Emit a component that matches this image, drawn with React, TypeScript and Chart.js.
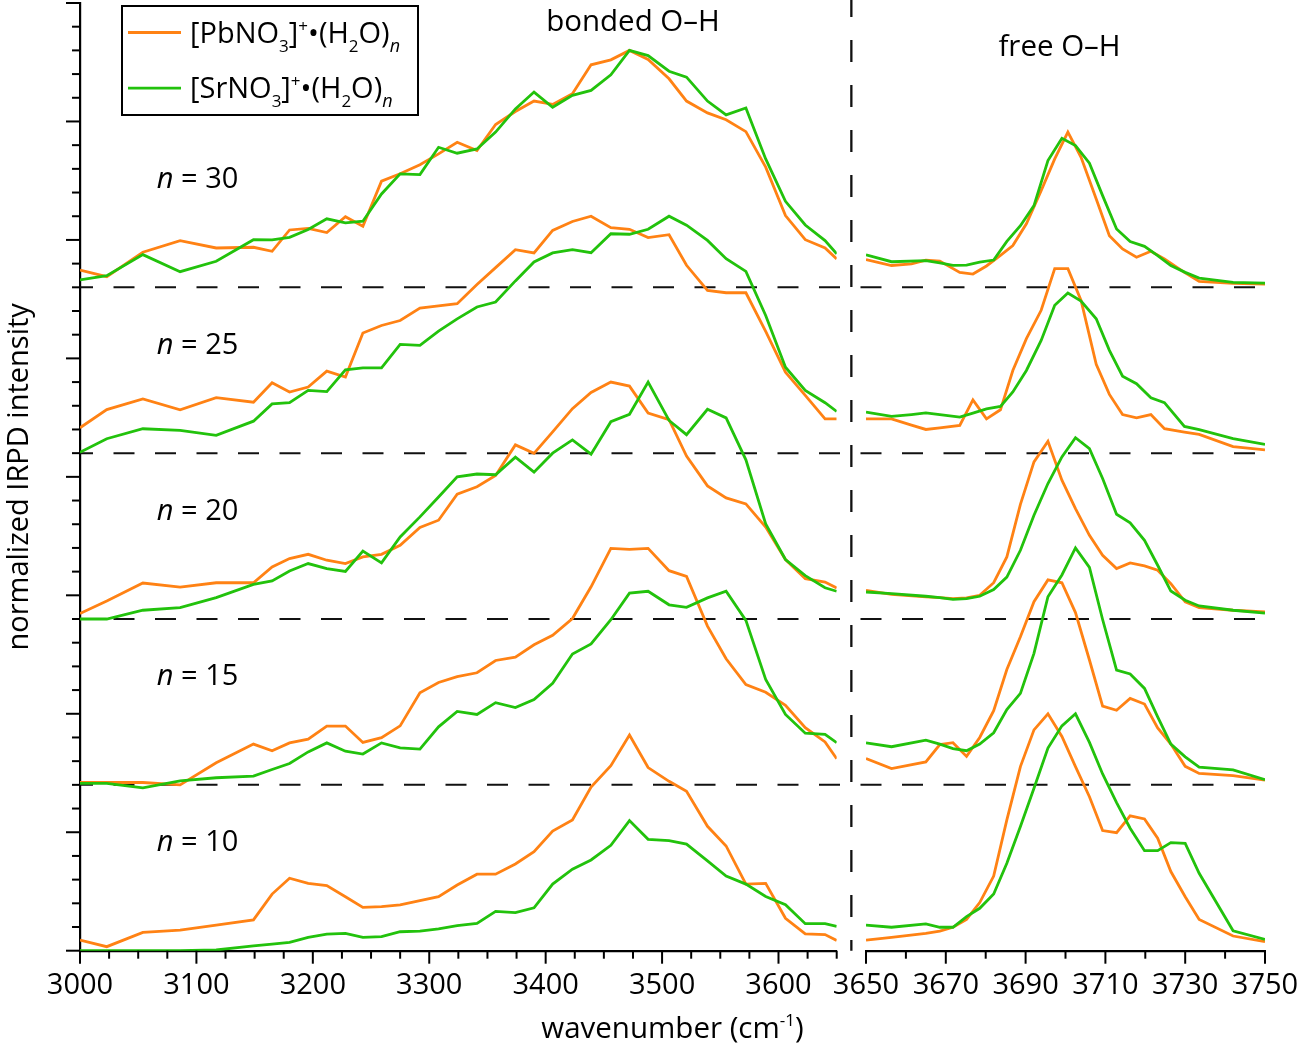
import React, { useEffect, useRef } from 'react';
import { Chart, registerables } from 'chart.js';

Chart.register(...registerables);

const FONT = '"Open Sans", "DejaVu Sans", sans-serif';
const ORANGE = '#ff8214';
const GREEN = '#22c20c';

// cluster sizes (n) and the vertical offset of each stacked trace
const CLUSTER_SIZES = [10, 15, 20, 25, 30];
const BASELINES = [0, 0.7, 1.4, 2.1, 2.8];

// ---------- bonded O-H region (3000-3650 cm-1) ----------
const BONDED_X = [3000, 3023, 3054, 3086, 3117, 3149, 3165, 3180, 3196, 3212, 3228, 3243, 3259, 3275, 3292, 3308, 3324, 3341, 3357, 3374, 3390, 3406, 3423, 3439, 3456, 3472, 3488, 3506, 3521, 3539, 3555, 3572, 3589, 3606, 3623, 3640, 3650];

const PB_BONDED_10 = [0.045, 0.017, 0.077, 0.087, 0.108, 0.130, 0.239, 0.306, 0.284, 0.275, 0.228, 0.183, 0.186, 0.193, 0.211, 0.228, 0.277, 0.323, 0.323, 0.366, 0.418, 0.505, 0.552, 0.691, 0.781, 0.910, 0.773, 0.715, 0.673, 0.525, 0.442, 0.281, 0.284, 0.137, 0.071, 0.068, 0.043];
const SR_BONDED_10 = [0, 0, 0, 0, 0.003, 0.020, 0.028, 0.035, 0.056, 0.070, 0.073, 0.056, 0.059, 0.080, 0.083, 0.092, 0.106, 0.115, 0.166, 0.161, 0.181, 0.281, 0.344, 0.383, 0.445, 0.549, 0.470, 0.465, 0.450, 0.379, 0.315, 0.281, 0.229, 0.194, 0.114, 0.114, 0.103];
const PB_BONDED_15 = [0.010, 0.010, 0.010, 0.0, 0.093, 0.172, 0.144, 0.177, 0.193, 0.248, 0.248, 0.179, 0.199, 0.249, 0.389, 0.432, 0.457, 0.473, 0.525, 0.539, 0.591, 0.631, 0.702, 0.836, 0.998, 0.994, 0.998, 0.904, 0.880, 0.670, 0.532, 0.423, 0.391, 0.336, 0.241, 0.181, 0.110];
const SR_BONDED_15 = [0.006, 0.006, -0.013, 0.017, 0.030, 0.037, 0.065, 0.090, 0.139, 0.177, 0.142, 0.130, 0.177, 0.156, 0.151, 0.245, 0.310, 0.297, 0.347, 0.326, 0.360, 0.429, 0.552, 0.595, 0.697, 0.809, 0.817, 0.760, 0.749, 0.789, 0.817, 0.694, 0.445, 0.297, 0.218, 0.213, 0.178];
const PB_BONDED_20 = [0.023, 0.076, 0.152, 0.135, 0.153, 0.153, 0.220, 0.255, 0.273, 0.248, 0.234, 0.262, 0.273, 0.311, 0.386, 0.417, 0.527, 0.558, 0.606, 0.735, 0.699, 0.790, 0.888, 0.956, 1.0, 0.983, 0.869, 0.841, 0.688, 0.562, 0.511, 0.486, 0.388, 0.251, 0.170, 0.156, 0.131];
const SR_BONDED_20 = [0.0, 0.0, 0.037, 0.048, 0.090, 0.146, 0.161, 0.203, 0.234, 0.213, 0.201, 0.287, 0.237, 0.346, 0.431, 0.515, 0.600, 0.612, 0.609, 0.683, 0.620, 0.700, 0.756, 0.696, 0.833, 0.864, 1.0, 0.838, 0.778, 0.885, 0.849, 0.672, 0.401, 0.251, 0.183, 0.132, 0.117];
const PB_BONDED_25 = [0.107, 0.184, 0.229, 0.183, 0.234, 0.215, 0.297, 0.258, 0.279, 0.346, 0.321, 0.507, 0.539, 0.560, 0.612, 0.622, 0.631, 0.712, 0.783, 0.859, 0.845, 0.940, 0.978, 1.0, 0.952, 0.945, 0.910, 0.922, 0.793, 0.687, 0.677, 0.677, 0.514, 0.342, 0.244, 0.145, 0.145];
const SR_BONDED_25 = [0.004, 0.061, 0.103, 0.096, 0.075, 0.135, 0.208, 0.213, 0.265, 0.260, 0.352, 0.360, 0.360, 0.459, 0.455, 0.515, 0.567, 0.617, 0.638, 0.727, 0.807, 0.845, 0.859, 0.846, 0.926, 0.924, 0.945, 1.0, 0.962, 0.898, 0.821, 0.767, 0.581, 0.363, 0.265, 0.213, 0.176];
const PB_BONDED_30 = [0.073, 0.045, 0.148, 0.197, 0.166, 0.169, 0.152, 0.242, 0.249, 0.231, 0.298, 0.258, 0.448, 0.479, 0.517, 0.563, 0.612, 0.577, 0.687, 0.742, 0.786, 0.772, 0.817, 0.939, 0.960, 1.0, 0.962, 0.880, 0.786, 0.736, 0.707, 0.657, 0.507, 0.303, 0.201, 0.166, 0.120];
const SR_BONDED_30 = [0.031, 0.049, 0.138, 0.066, 0.110, 0.201, 0.200, 0.211, 0.244, 0.289, 0.272, 0.279, 0.394, 0.479, 0.476, 0.591, 0.566, 0.584, 0.655, 0.753, 0.824, 0.760, 0.810, 0.831, 0.897, 1.0, 0.978, 0.912, 0.887, 0.786, 0.728, 0.757, 0.542, 0.363, 0.263, 0.197, 0.141];

// ---------- free O-H region (3650-3750 cm-1) ----------
const FREE_X_A = [3650, 3656.4, 3665, 3668.5, 3671.8, 3675.2, 3678.5, 3682, 3685.3, 3688.7, 3692.1, 3695.6, 3699.1, 3702.5, 3706, 3709.3, 3712.8, 3716.2, 3719.8, 3723.1, 3726.4, 3730, 3733.5, 3742, 3750];
const FREE_X_B = [3650, 3656.4, 3661.4, 3665, 3668.5, 3673.5, 3676.8, 3680.2, 3683.7, 3686.8, 3690.2, 3693.9, 3697.3, 3700.6, 3703.9, 3707.7, 3711, 3714.3, 3717.8, 3721.4, 3724.8, 3729.8, 3733.5, 3742, 3750];

const PB_FREE_10 = [0.045, 0.056, 0.073, 0.083, 0.099, 0.132, 0.203, 0.315, 0.552, 0.777, 0.932, 1.0, 0.904, 0.777, 0.650, 0.507, 0.498, 0.569, 0.556, 0.475, 0.334, 0.228, 0.132, 0.062, 0.038];
const SR_FREE_10 = [0.108, 0.099, 0.113, 0.099, 0.099, 0.144, 0.179, 0.239, 0.369, 0.524, 0.686, 0.855, 0.949, 1.0, 0.879, 0.746, 0.625, 0.517, 0.422, 0.422, 0.456, 0.453, 0.327, 0.084, 0.048];
const PB_FREE_15 = [0.111, 0.069, 0.097, 0.170, 0.178, 0.120, 0.200, 0.313, 0.487, 0.625, 0.773, 0.865, 0.853, 0.727, 0.527, 0.332, 0.315, 0.365, 0.341, 0.240, 0.172, 0.078, 0.048, 0.039, 0.020];
const SR_FREE_15 = [0.177, 0.161, 0.189, 0.172, 0.153, 0.144, 0.172, 0.220, 0.318, 0.386, 0.555, 0.794, 0.886, 1.0, 0.918, 0.698, 0.484, 0.468, 0.407, 0.287, 0.172, 0.118, 0.075, 0.063, 0.022];
const PB_FREE_20 = [0.121, 0.104, 0.093, 0.090, 0.086, 0.089, 0.100, 0.153, 0.262, 0.484, 0.663, 0.750, 0.586, 0.466, 0.353, 0.269, 0.213, 0.237, 0.224, 0.206, 0.149, 0.072, 0.048, 0.037, 0.030];
const SR_FREE_20 = [0.114, 0.107, 0.096, 0.090, 0.083, 0.086, 0.096, 0.124, 0.177, 0.290, 0.438, 0.572, 0.684, 0.765, 0.719, 0.593, 0.442, 0.406, 0.332, 0.227, 0.118, 0.079, 0.055, 0.037, 0.025];
const PB_FREE_25 = [0.145, 0.145, 0.118, 0.100, 0.107, 0.117, 0.225, 0.145, 0.183, 0.349, 0.483, 0.603, 0.779, 0.779, 0.645, 0.375, 0.248, 0.163, 0.149, 0.163, 0.103, 0.089, 0.079, 0.028, 0.014];
const SR_FREE_25 = [0.173, 0.155, 0.163, 0.170, 0.163, 0.152, 0.169, 0.187, 0.197, 0.258, 0.349, 0.476, 0.624, 0.676, 0.642, 0.567, 0.434, 0.325, 0.293, 0.234, 0.213, 0.113, 0.099, 0.061, 0.037];
const PB_FREE_30 = [0.117, 0.092, 0.099, 0.115, 0.111, 0.063, 0.056, 0.090, 0.135, 0.176, 0.268, 0.408, 0.542, 0.655, 0.549, 0.373, 0.218, 0.162, 0.127, 0.152, 0.120, 0.063, 0.025, 0.017, 0.014];
const SR_FREE_30 = [0.137, 0.108, 0.113, 0.103, 0.093, 0.094, 0.106, 0.115, 0.194, 0.260, 0.345, 0.535, 0.629, 0.598, 0.524, 0.387, 0.246, 0.193, 0.173, 0.134, 0.092, 0.063, 0.039, 0.021, 0.018];

const PB_BONDED = [PB_BONDED_10, PB_BONDED_15, PB_BONDED_20, PB_BONDED_25, PB_BONDED_30];
const SR_BONDED = [SR_BONDED_10, SR_BONDED_15, SR_BONDED_20, SR_BONDED_25, SR_BONDED_30];
const PB_FREE = [PB_FREE_10, PB_FREE_15, PB_FREE_20, PB_FREE_25, PB_FREE_30];
const SR_FREE = [SR_FREE_10, SR_FREE_15, SR_FREE_20, SR_FREE_25, SR_FREE_30];
const PB_FREE_X = [FREE_X_A, FREE_X_A, FREE_X_A, FREE_X_B, FREE_X_B];
const SR_FREE_X = [FREE_X_A, FREE_X_A, FREE_X_A, FREE_X_B, FREE_X_A];

const LEGEND_IONS = [
  { metal: '[PbNO', color: ORANGE },
  { metal: '[SrNO', color: GREEN },
];
const REGION_TITLES = ['bonded O\u2013H', 'free O\u2013H'];
const X_TITLE = 'wavenumber (cm';
const Y_TITLE = 'normalized IRPD intensity';

type Seg = { t: string; size: number; dy?: number; italic?: boolean };

function segWidth(ctx: CanvasRenderingContext2D, segs: Seg[]) {
  let w = 0;
  for (const s of segs) {
    ctx.font = `${s.italic ? 'italic ' : ''}${s.size}px ${FONT}`;
    w += ctx.measureText(s.t).width;
  }
  return w;
}

function drawRich(ctx: CanvasRenderingContext2D, x: number, y: number, segs: Seg[]) {
  let cx = x;
  for (const s of segs) {
    ctx.font = `${s.italic ? 'italic ' : ''}${s.size}px ${FONT}`;
    ctx.fillText(s.t, cx, y + (s.dy || 0));
    cx += ctx.measureText(s.t).width;
  }
  return cx;
}

const decorations = {
  id: 'decorations',
  beforeDatasetsDraw(chart: any) {
    const { ctx, chartArea } = chart;
    const y = chart.scales.y;
    const xl = chart.scales.x;
    const xr = chart.scales.x2;
    ctx.save();
    ctx.strokeStyle = '#111';
    ctx.lineWidth = 2;
    ctx.setLineDash([21, 20.5]);
    ctx.lineDashOffset = 8;
    BASELINES.slice(1).forEach((b) => {
      const py = y.getPixelForValue(b);
      ctx.beginPath();
      ctx.moveTo(chartArea.left, py);
      ctx.lineTo(chartArea.right, py);
      ctx.stroke();
    });
    const bx = (xl.right + xr.left) / 2;
    ctx.setLineDash([22, 23]);
    ctx.lineDashOffset = 5;
    ctx.lineWidth = 2.3;
    ctx.beginPath();
    ctx.moveTo(bx, 0);
    ctx.lineTo(bx, chartArea.bottom);
    ctx.stroke();
    ctx.restore();
  },
  afterDraw(chart: any) {
    const { ctx, chartArea } = chart;
    const y = chart.scales.y;
    const xl = chart.scales.x;
    const xr = chart.scales.x2;
    ctx.save();
    ctx.setLineDash([]);
    ctx.strokeStyle = '#000';
    ctx.lineWidth = 2;
    // y ticks (major every 0.5, minor every 0.1)
    y.ticks.forEach((t: any) => {
      const py = y.getPixelForValue(t.value);
      const major = Math.abs(t.value * 2 - Math.round(t.value * 2)) < 1e-6;
      const len = major ? 14 : 8;
      ctx.beginPath();
      ctx.moveTo(y.right, py);
      ctx.lineTo(y.right - len, py);
      ctx.stroke();
    });
    // x ticks
    ([[xl, 100], [xr, 20]] as any[]).forEach(([s, m]) => {
      s.ticks.forEach((t: any) => {
        const px = s.getPixelForValue(t.value);
        const r = (t.value - s.min) / m;
        const major = Math.abs(r - Math.round(r)) < 1e-6;
        const len = major ? 13 : 8;
        ctx.beginPath();
        ctx.moveTo(px, s.top);
        ctx.lineTo(px, s.top + len);
        ctx.stroke();
      });
    });

    ctx.fillStyle = '#000';
    ctx.textBaseline = 'alphabetic';
    ctx.textAlign = 'left';

    // n = .. labels
    CLUSTER_SIZES.forEach((n, k) => {
      const py = y.getPixelForValue(BASELINES[k]) - 99.5;
      const px = xl.getPixelForValue(3066);
      drawRich(ctx, px, py, [
        { t: 'n', size: 29, italic: true },
        { t: ' = ' + n, size: 29 },
      ]);
    });

    // region titles
    const t1: Seg[] = [{ t: REGION_TITLES[0], size: 29.5 }];
    const t1x = xl.getPixelForValue(3475) - segWidth(ctx, t1) / 2;
    drawRich(ctx, t1x, chartArea.top + 28, t1);
    const t2: Seg[] = [{ t: REGION_TITLES[1], size: 29.5 }];
    const t2x = xr.getPixelForValue(3698.5) - segWidth(ctx, t2) / 2;
    drawRich(ctx, t2x, chartArea.top + 53, t2);

    // x axis title
    const xt: Seg[] = [
      { t: X_TITLE, size: 29.5 },
      { t: '-1', size: 17, dy: -12 },
      { t: ')', size: 29.5 },
    ];
    const cx = (chartArea.left + chartArea.right) / 2;
    drawRich(ctx, cx - segWidth(ctx, xt) / 2, 1038, xt);

    // legend
    const lx = chartArea.left + 42;
    const ly = chartArea.top + 3;
    ctx.lineWidth = 2;
    ctx.strokeStyle = '#000';
    ctx.strokeRect(lx, ly, 296, 109);
    LEGEND_IONS.forEach((ion, i) => {
      const rowBase = ly + 36.5 + i * 55.7;
      ctx.strokeStyle = ion.color;
      ctx.lineWidth = 2.8;
      ctx.beginPath();
      ctx.moveTo(lx + 6, rowBase - 10);
      ctx.lineTo(lx + 59, rowBase - 10);
      ctx.stroke();
      ctx.fillStyle = '#000';
      drawRich(ctx, lx + 68, rowBase, [
        { t: ion.metal, size: 29 },
        { t: '3', size: 17, dy: 9 },
        { t: ']', size: 29 },
        { t: '+', size: 17, dy: -11 },
        { t: '\u2022(H', size: 29 },
        { t: '2', size: 17, dy: 9 },
        { t: 'O)', size: 29 },
        { t: 'n', size: 18, dy: 9, italic: true },
      ]);
    });
    ctx.restore();
  },
};

export default function App() {
  const ref = useRef<HTMLCanvasElement | null>(null);
  useEffect(() => {
    if (!ref.current) return;
    const datasets: any[] = [];
    const mk = (label: string, xs: number[], ys: number[], base: number, color: string, axis: string, order: number) => ({
      label,
      data: xs.map((x, i) => ({ x, y: ys[i] + base })),
      xAxisID: axis,
      yAxisID: 'y',
      borderColor: color,
      backgroundColor: color,
      borderWidth: 2.8,
      pointRadius: 0,
      pointHoverRadius: 0,
      tension: 0,
      fill: false,
      order,
    });
    CLUSTER_SIZES.forEach((n, k) => {
      const base = BASELINES[k];
      datasets.push(mk(`[PbNO3]+ n=${n} bonded`, BONDED_X, PB_BONDED[k], base, ORANGE, 'x', 2));
      datasets.push(mk(`[SrNO3]+ n=${n} bonded`, BONDED_X, SR_BONDED[k], base, GREEN, 'x', 1));
      datasets.push(mk(`[PbNO3]+ n=${n} free`, PB_FREE_X[k], PB_FREE[k], base, ORANGE, 'x2', 2));
      datasets.push(mk(`[SrNO3]+ n=${n} free`, SR_FREE_X[k], SR_FREE[k], base, GREEN, 'x2', 1));
    });

    const fitBottom = (s: any) => {
      s.height = 95.3;
      s.paddingLeft = 0;
      s.paddingRight = 0;
    };
    const tickFont = { family: FONT, size: 29 };

    const chart = new Chart(ref.current, {
      type: 'line',
      data: { datasets },
      plugins: [decorations],
      options: {
        responsive: false,
        animation: false,
        events: [],
        layout: { padding: { left: 0, right: 35, top: 3, bottom: 0 } },
        plugins: {
          legend: { display: false },
          tooltip: { enabled: false },
          title: { display: false },
        },
        scales: {
          x: {
            type: 'linear',
            position: 'bottom',
            stack: 'wavenumber',
            stackWeight: 756.7,
            min: 3000,
            max: 3650,
            afterFit: fitBottom,
            grid: { display: false, drawTicks: false },
            border: { display: true, color: '#000', width: 2.2 },
            ticks: {
              stepSize: 25,
              autoSkip: false,
              maxRotation: 0,
              minRotation: 0,
              padding: 18,
              color: '#000',
              font: tickFont,
              callback: (v: any) => ((Number(v) - 3000) % 100 === 0 ? String(v) : ''),
            },
          },
          xgap: {
            type: 'linear',
            position: 'bottom',
            stack: 'wavenumber',
            stackWeight: 29.3,
            min: 0,
            max: 1,
            afterFit: fitBottom,
            grid: { display: false, drawTicks: false },
            border: { display: false },
            ticks: { display: false },
          },
          x2: {
            type: 'linear',
            position: 'bottom',
            stack: 'wavenumber',
            stackWeight: 399,
            min: 3650,
            max: 3750,
            afterFit: fitBottom,
            grid: { display: false, drawTicks: false },
            border: { display: true, color: '#000', width: 2.2 },
            ticks: {
              stepSize: 10,
              autoSkip: false,
              maxRotation: 0,
              minRotation: 0,
              padding: 18,
              color: '#000',
              font: tickFont,
              callback: (v: any) => ((Number(v) - 3650) % 20 === 0 ? String(v) : ''),
            },
          },
          y: {
            type: 'linear',
            position: 'left',
            min: 0,
            max: 4,
            afterFit: (s: any) => {
              s.width = 80;
            },
            grid: { display: false, drawTicks: false },
            border: { display: true, color: '#000', width: 2.2 },
            ticks: { display: false, stepSize: 0.1 },
            title: {
              display: true,
              text: Y_TITLE,
              color: '#000',
              font: { family: FONT, size: 29 },
              padding: { top: 2, bottom: 0 },
            },
          },
        },
      } as any,
    });
    return () => chart.destroy();
  }, []);

  return (
    <canvas
      ref={ref}
      width={1300}
      height={1046}
      style={{ position: 'absolute', left: 0, top: 0, width: 1300, height: 1046 }}
    />
  );
}
